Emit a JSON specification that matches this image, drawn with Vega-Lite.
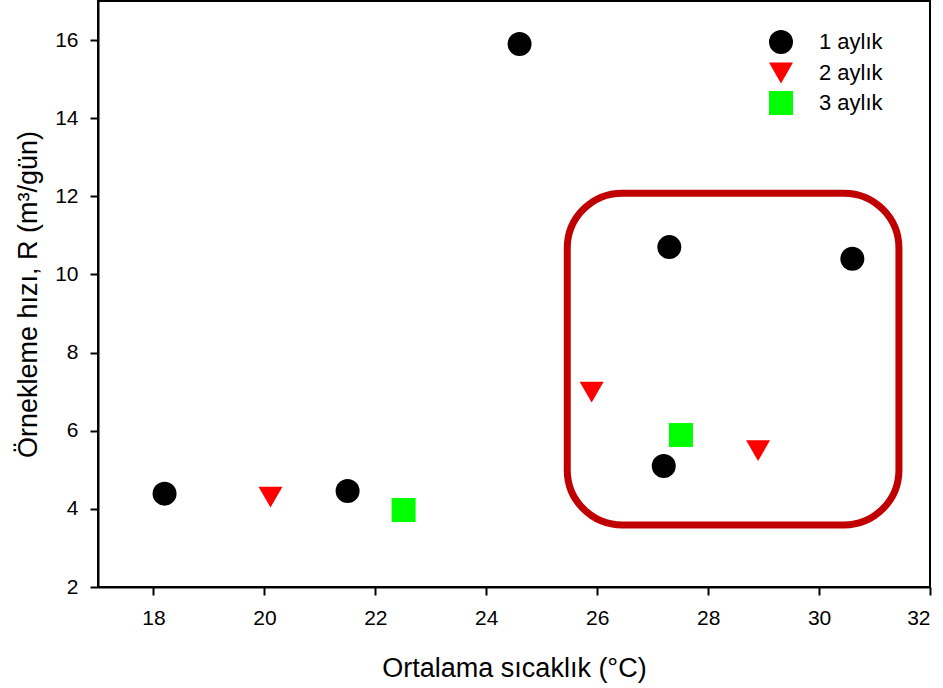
{
  "$schema": "https://vega.github.io/schema/vega-lite/v6.json",
  "autosize": {"type": "none"},
  "padding": {"left": 98, "top": 1, "right": 13, "bottom": 101},
  "width": 832,
  "height": 586,
  "config": {
    "font": "Liberation Sans",
    "view": {"stroke": "#000000", "strokeWidth": 2},
    "axis": {
      "grid": false,
      "domainColor": "#000000",
      "domainWidth": 2,
      "tickColor": "#000000",
      "tickWidth": 2,
      "tickSize": 8,
      "labelFont": "Liberation Sans",
      "labelFontSize": 21,
      "labelColor": "#000000",
      "labelPadding": 12,
      "titleFont": "Liberation Sans",
      "titleFontSize": 27,
      "titleFontWeight": "normal",
      "titleColor": "#000000"
    },
    "legend": {
      "labelFont": "Liberation Sans",
      "labelFontSize": 22,
      "labelColor": "#000000"
    }
  },
  "layer": [
    {
      "data": {"values": [{"x1": 25.46, "x2": 31.44, "y1": 3.59, "y2": 12.08}]},
      "mark": {"type": "rect", "fill": null, "fillOpacity": 0, "stroke": "#c00000", "strokeWidth": 7, "cornerRadius": 55},
      "encoding": {
        "x": {"field": "x1", "type": "quantitative", "scale": {"domain": [17, 32]}},
        "x2": {"field": "x2"},
        "y": {"field": "y1", "type": "quantitative", "scale": {"domain": [2, 17]}},
        "y2": {"field": "y2"}
      }
    },
    {
      "data": {
        "values": [
          {"sicaklik": 18.2, "hiz": 4.39, "seri": "1 aylık"},
          {"sicaklik": 21.5, "hiz": 4.46, "seri": "1 aylık"},
          {"sicaklik": 24.6, "hiz": 15.9, "seri": "1 aylık"},
          {"sicaklik": 27.3, "hiz": 10.7, "seri": "1 aylık"},
          {"sicaklik": 30.6, "hiz": 10.4, "seri": "1 aylık"},
          {"sicaklik": 27.2, "hiz": 5.1, "seri": "1 aylık"},
          {"sicaklik": 20.11, "hiz": 4.3, "seri": "2 aylık"},
          {"sicaklik": 25.9, "hiz": 6.99, "seri": "2 aylık"},
          {"sicaklik": 28.9, "hiz": 5.49, "seri": "2 aylık"},
          {"sicaklik": 22.51, "hiz": 3.97, "seri": "3 aylık"},
          {"sicaklik": 27.51, "hiz": 5.89, "seri": "3 aylık"}
        ]
      },
      "mark": {"type": "point", "filled": true, "opacity": 1},
      "encoding": {
        "x": {
          "field": "sicaklik", "type": "quantitative",
          "scale": {"domain": [17, 32], "nice": false, "zero": false},
          "axis": {"values": [18, 20, 22, 24, 26, 28, 30, 32], "title": "Ortalama sıcaklık (°C)", "titlePadding": 27}
        },
        "y": {
          "field": "hiz", "type": "quantitative",
          "scale": {"domain": [2, 17], "nice": false, "zero": false},
          "axis": {"values": [2, 4, 6, 8, 10, 12, 14, 16], "title": "Örnekleme hızı, R (m³/gün)", "titlePadding": 12}
        },
        "color": {
          "field": "seri", "type": "nominal",
          "scale": {"domain": ["1 aylık", "2 aylık", "3 aylık"], "range": ["#000000", "#ff0000", "#00ff00"]},
          "legend": {"title": null, "orient": "none", "legendX": 670, "legendY": 28, "padding": 0, "rowPadding": 6, "labelOffset": 25}
        },
        "shape": {
          "field": "seri", "type": "nominal",
          "scale": {"domain": ["1 aylık", "2 aylık", "3 aylık"], "range": ["circle", "triangle-down", "square"]}
        },
        "size": {
          "field": "seri", "type": "nominal",
          "scale": {"domain": ["1 aylık", "2 aylık", "3 aylık"], "range": [576, 576, 441]}
        }
      }
    }
  ]
}
